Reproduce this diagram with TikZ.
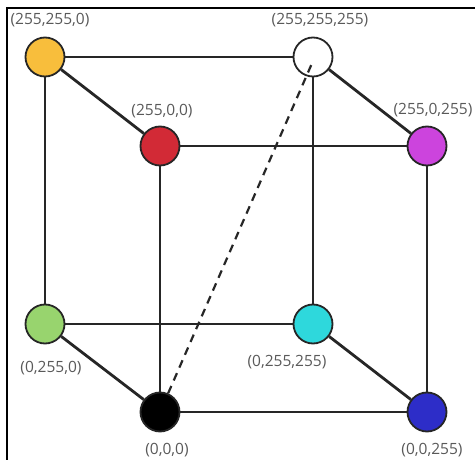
\documentclass[tikz,border=0pt]{standalone}
\usepackage{fontspec}
\setmainfont{Open Sans}
\begin{document}
\begin{tikzpicture}[x=1pt, y=-1pt,
  ecke/.style={circle, draw=black!85, line width=1.8pt, minimum size=39pt, inner sep=0pt},
  kante/.style={draw=black!85, line width=2.8pt},
  wert/.style={text=black!65, font=\fontsize{15.5}{16}\selectfont, inner sep=0pt}]

  % --- Farben ---
  \definecolor{cgelb}{HTML}{F8BE3C}    % (255,255,0)
  \definecolor{crot}{HTML}{D22A36}     % (255,0,0)
  \definecolor{cmagenta}{HTML}{CC44DD} % (255,0,255)
  \definecolor{cgruen}{HTML}{98D46E}   % (0,255,0)
  \definecolor{ccyan}{HTML}{2ED8DC}    % (0,255,255)
  \definecolor{cblau}{HTML}{2D2DC8}    % (0,0,255)

  \useasboundingbox (0,0) rectangle (475,460);

  % --- Rahmen (links und oben) ---
  \draw[line width=2.8pt] (7,460) -- (7,8) -- (475,8);

  % --- Ecken des Wuerfels ---
  \node[ecke, fill=cgelb]    (y) at (45,57)   {};
  \node[ecke, fill=white]    (w) at (313,57)  {};
  \node[ecke, fill=crot]     (r) at (160,146) {};
  \node[ecke, fill=cmagenta] (m) at (427,146) {};
  \node[ecke, fill=cgruen]   (g) at (45,324)  {};
  \node[ecke, fill=ccyan]    (c) at (313,324) {};
  \node[ecke, fill=black]    (k) at (160,412) {};
  \node[ecke, fill=cblau]    (b) at (427,412) {};

  % --- Kanten ---
  \draw[kante] (y) -- (w);
  \draw[kante] (y) -- (r);
  \draw[kante] (y) -- (g);
  \draw[kante] (w) -- (m);
  \draw[kante] (w) -- (c);
  \draw[kante] (r) -- (m);
  \draw[kante] (r) -- (k);
  \draw[kante] (m) -- (b);
  \draw[kante] (g) -- (c);
  \draw[kante] (g) -- (k);
  \draw[kante] (c) -- (b);
  \draw[kante] (k) -- (b);

  % --- Diagonale schwarz -> weiss ---
  \draw[draw=black!85, line width=2.2pt, dash pattern=on 8pt off 6pt] (k) -- ([yshift=-4pt]w.center);

  % --- RGB-Werte ---
  \node[wert] (ly) at (50,20)   {(255,255,0)};
  \node[wert] (lw) at (320,20)  {(255,255,255)};
  \node[wert] (lr) at (162,111) {(255,0,0)};
  \node[wert] (lm) at (433,110) {(255,0,255)};
  \node[wert] (lg) at (51,368)  {(0,255,0)};
  \node[wert] (lc) at (287,362) {(0,255,255)};
  \node[wert] (lk) at (167,450) {(0,0,0)};
  \node[wert] (lb) at (432,450) {(0,0,255)};

\end{tikzpicture}
\end{document}
